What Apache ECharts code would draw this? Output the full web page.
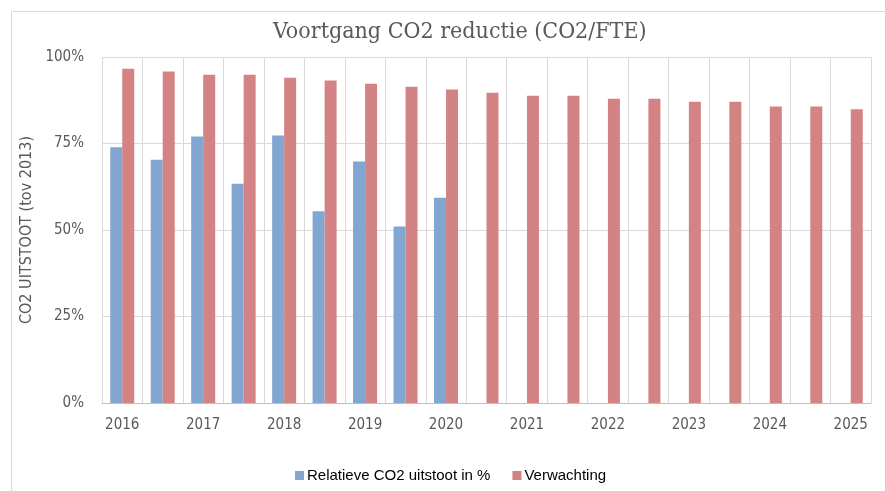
<!DOCTYPE html>
<html>
<head>
<meta charset="utf-8">
<script src="https://cdn.jsdelivr.net/npm/echarts@6/dist/echarts.min.js"></script>
<style>
html,body{margin:0;padding:0;background:#fff;}
#c{width:885px;height:491px;}
</style>
</head>
<body>
<div id="c"></div>
<script>
var categories = ['2016','2016b','2017','2017b','2018','2018b','2019','2019b','2020','2020b','2021','2021b','2022','2022b','2023','2023b','2024','2024b','2025'];
var relatief = [73.9, 70.3, 77.0, 63.4, 77.3, 55.4, 69.8, 51.0, 59.3, null, null, null, null, null, null, null, null, null, null];
var verwachting = [96.6, 95.8, 94.9, 94.9, 94.0, 93.2, 92.3, 91.4, 90.6, 89.7, 88.8, 88.8, 87.9, 87.9, 87.1, 87.1, 85.7, 85.7, 84.9];
var yTicks = [0, 25, 50, 75, 100];

var chart = echarts.init(document.getElementById('c'));
chart.setOption({
  animation: false,
  backgroundColor: '#fff',
  title: {
    text: 'Voortgang CO2 reductie (CO2/FTE)',
    left: 268,
    top: 16,
    textStyle: {fontFamily: 'DejaVu Serif Condensed, DejaVu Serif', fontWeight: 'normal', fontSize: 23, color: '#595959'}
  },
  graphic: [{
    type: 'rect',
    shape: {x: 11.5, y: 11.5, width: 900, height: 600},
    style: {fill: 'none', stroke: '#d9d9d9', lineWidth: 1},
    silent: true
  }],
  legend: {
    bottom: 3,
    left: 290,
    itemWidth: 9,
    itemHeight: 9,
    itemGap: 22,
    icon: 'rect',
    textStyle: {fontFamily: 'Liberation Sans', fontSize: 15, color: '#000', padding: [0, 0, 0, -2]},
    data: ['Relatieve CO2 uitstoot in %', 'Verwachting']
  },
  grid: {left: 102, right: 14, top: 57, bottom: 88, containLabel: false},
  xAxis: {
    type: 'category',
    data: categories,
    boundaryGap: true,
    axisLine: {show: true, lineStyle: {color: '#bfbfbf'}},
    axisTick: {show: false},
    axisLabel: {
      interval: 1,
      margin: 15,
      fontFamily: 'DejaVu Sans Condensed, Liberation Sans',
      fontSize: 15,
      color: '#595959',
      formatter: function (v) { return v.replace('b', ''); }
    },
    splitLine: {show: true, interval: 0, lineStyle: {color: '#d9d9d9', width: 1}}
  },
  yAxis: {
    type: 'value',
    min: yTicks[0],
    max: yTicks[yTicks.length - 1],
    interval: 25,
    name: 'CO2 UITSTOOT (tov 2013)',
    nameLocation: 'middle',
    nameGap: 63,
    nameRotate: 90,
    nameTextStyle: {fontFamily: 'DejaVu Sans Condensed, Liberation Sans', fontSize: 16, color: '#595959'},
    axisLine: {show: false},
    axisTick: {show: false},
    axisLabel: {
      margin: 18,
      fontFamily: 'DejaVu Sans Condensed, Liberation Sans',
      fontSize: 15,
      color: '#595959',
      formatter: '{value}%'
    },
    splitLine: {show: true, lineStyle: {color: '#d9d9d9', width: 1}}
  },
  series: [
    {
      name: 'Relatieve CO2 uitstoot in %',
      type: 'bar',
      data: relatief,
      barWidth: 12,
      barGap: '0%',
      itemStyle: {color: '#81a6d1'}
    },
    {
      name: 'Verwachting',
      type: 'bar',
      data: verwachting,
      barWidth: 12,
      barGap: '0%',
      itemStyle: {color: '#d38383'}
    }
  ]
});
</script>
</body>
</html>
